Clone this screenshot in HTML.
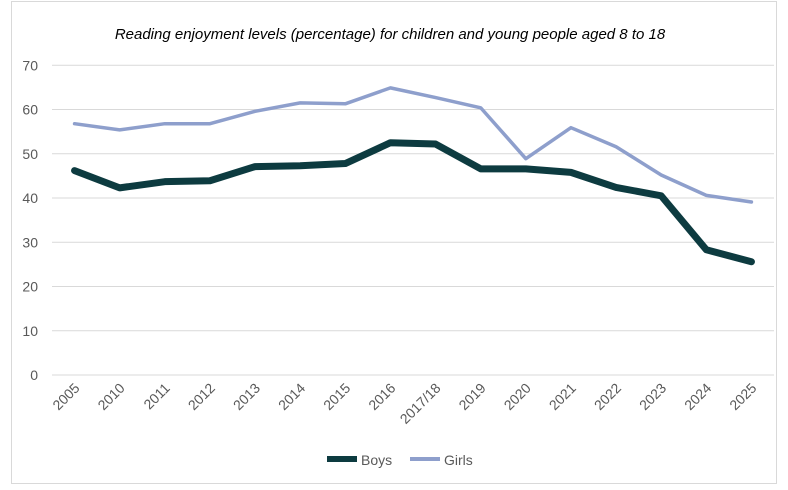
<!DOCTYPE html>
<html><head><meta charset="utf-8"><style>
body{margin:0;background:#fff;width:788px;height:485px;overflow:hidden;font-family:"Liberation Sans",sans-serif}
</style></head><body>
<svg width="788" height="485">
<rect x="11.5" y="1.5" width="765" height="482" fill="#fff" stroke="#d9d9d9"/>
<text x="390" y="39" text-anchor="middle" font-size="15" font-style="italic" fill="#000">Reading enjoyment levels (percentage) for children and young people aged 8 to 18</text>
<g id="grid"></g><g id="ylab"></g><g id="xlab"></g><g id="lines"></g>
<g>
<line x1="327" y1="459" x2="357" y2="459" stroke="#0d3b40" stroke-width="6"/>
<text x="361" y="465" font-size="14" fill="#595959">Boys</text>
<line x1="410" y1="459" x2="440" y2="459" stroke="#8e9fcc" stroke-width="4"/>
<text x="444" y="465" font-size="14" fill="#595959">Girls</text>
</g>
</svg>
<script>
const categories=["2005","2010","2011","2012","2013","2014","2015","2016","2017/18","2019","2020","2021","2022","2023","2024","2025"];
const boys=[46.2,42.3,43.7,43.9,47.1,47.3,47.8,52.5,52.2,46.6,46.6,45.8,42.4,40.5,28.3,25.6];
const girls=[56.8,55.4,56.8,56.8,59.6,61.5,61.3,64.9,62.7,60.4,48.9,55.9,51.6,45.2,40.6,39.1];
const yTicks=[0,10,20,30,40,50,60,70];
const NS="http://www.w3.org/2000/svg";
const L=52,R=774,Y0=375,Y70=65.3;
const y=v=>Y0+(Y70-Y0)*v/70;
const step=(R-L)/categories.length;
const x=i=>L+step*(i+0.5);
function mk(t,a,p){const e=document.createElementNS(NS,t);for(const k in a)e.setAttribute(k,a[k]);document.getElementById(p).appendChild(e);return e;}
yTicks.forEach(v=>{
 const g=mk("line",{x1:L,x2:R,y1:y(v),y2:y(v),stroke:"#d9d9d9","stroke-width":1},"grid");
 
 
 const t=mk("text",{x:38,y:y(v)+5,"text-anchor":"end","font-size":14,fill:"#595959"},"ylab");
 t.textContent=v;
 
 
});
categories.forEach((c,i)=>{
 const t=mk("text",{x:x(i)+6,y:389,"text-anchor":"end","font-size":14,fill:"#595959",transform:`rotate(-45 ${x(i)+6} 389)`},"xlab");
 t.textContent=c;
 
 
});
function line(d,col,w,name){
 const p=mk("polyline",{points:d.map((v,i)=>x(i)+","+y(v)).join(" "),fill:"none",stroke:col,"stroke-width":w,"stroke-linejoin":"round","stroke-linecap":"round"},"lines");
 
 
}
line(girls,"#8e9fcc",3.5,"girls-line");
line(boys,"#0d3b40",7,"boys-line");
</script>
</body></html>
